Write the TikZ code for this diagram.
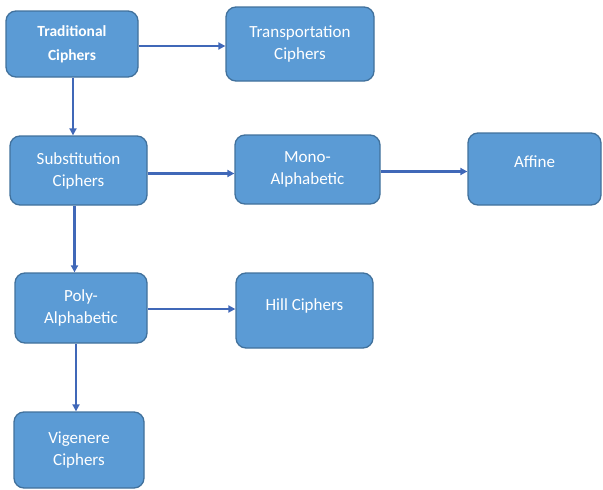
\documentclass[tikz,border=0pt]{standalone}
\usepackage{fontspec}
\setmainfont{Carlito}
\usetikzlibrary{arrows.meta}
\definecolor{boxfill}{HTML}{5B9BD5}
\definecolor{boxline}{HTML}{41719C}
\definecolor{arrowcol}{HTML}{4068B8}
\begin{document}
\begin{tikzpicture}[x=1pt,y=-1pt,
  box/.style={draw=boxline, line width=1.3pt, fill=boxfill, rounded corners=10pt,
    text=white, align=center, inner sep=0pt,
    font=\fontsize{17}{22}\selectfont},
  arr/.style={draw=arrowcol, line width=2.8pt, -{Triangle[length=7pt,width=7pt]}}]
\useasboundingbox (0,0) rectangle (603,490);
\node[box, minimum width=132pt, minimum height=66pt, font=\fontsize{15.5}{24}\selectfont\bfseries] (trad) at (72,44) {Traditional\\Ciphers};
\node[box, minimum width=148pt, minimum height=74pt] (transp) at (300,44) {Transportation\\Ciphers};
\node[box, minimum width=137pt, minimum height=69pt] (sub) at (78.5,170.5) {Substitution\\Ciphers};
\node[box, minimum width=145pt, minimum height=69pt] (mono) at (307.5,169.5) {Mono-\\Alphabetic};
\node[box, minimum width=133pt, minimum height=72pt, text depth=14pt] (affine) at (534.5,169) {Affine};
\node[box, minimum width=132pt, minimum height=70pt] (poly) at (81,308) {Poly-\\Alphabetic};
\node[box, minimum width=137pt, minimum height=75pt, text depth=12pt] (hill) at (304.5,310.5) {Hill Ciphers};
\node[box, minimum width=130pt, minimum height=76pt] (vig) at (79,450) {Vigenere\\Ciphers};
\draw[arr] ([yshift=-2pt]trad.east) -- ([yshift=-2pt]trad.east -| transp.west);
\draw[arr] ([xshift=1pt]trad.south) -- ([xshift=1pt]trad.south |- sub.north);
\draw[arr] ([yshift=-3pt]sub.east) -- ([yshift=-3pt]sub.east -| mono.west);
\draw[arr] ([yshift=-2pt]mono.east) -- ([yshift=-2pt]mono.east -| affine.west);
\draw[arr] ([xshift=-4pt]sub.south) -- ([xshift=-4pt]sub.south |- poly.north);
\draw[arr] ([yshift=-1pt]poly.east) -- ([yshift=-1pt]poly.east -| hill.west);
\draw[arr] ([xshift=-5pt]poly.south) -- ([xshift=-5pt]poly.south |- vig.north);
\end{tikzpicture}
\end{document}
